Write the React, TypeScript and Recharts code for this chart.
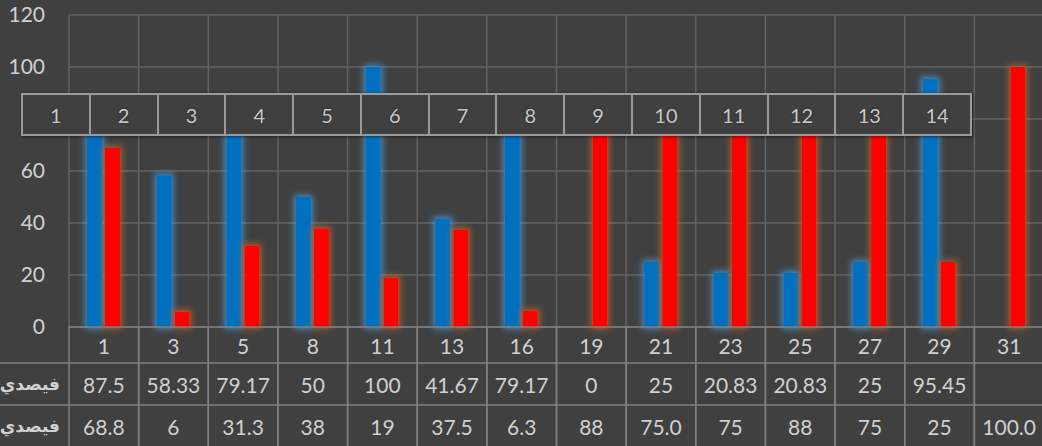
import { BarChart, Bar, XAxis, YAxis, CartesianGrid } from 'recharts';

const categories = ['1', '3', '5', '8', '11', '13', '16', '19', '21', '23', '25', '27', '29', '31'];
const blueValues = [87.5, 58.33, 79.17, 50, 100, 41.67, 79.17, 0, 25, 20.83, 20.83, 25, 95.45, null];
const redValues = [68.8, 6, 31.3, 38, 19, 37.5, 6.3, 88, 75.0, 75, 88, 75, 25, 100.0];
const blueLabels = ['87.5', '58.33', '79.17', '50', '100', '41.67', '79.17', '0', '25', '20.83', '20.83', '25', '95.45', ''];
const redLabels = ['68.8', '6', '31.3', '38', '19', '37.5', '6.3', '88', '75.0', '75', '88', '75', '25', '100.0'];
const yTicks = [0, 20, 40, 60, 80, 100, 120];
const boxLabels = ['1', '2', '3', '4', '5', '6', '7', '8', '9', '10', '11', '12', '13', '14'];
const rowLabel = 'فيصدي';

const data = categories.map((cat, i) => ({ cat, blue: blueValues[i], red: redValues[i] }));

const CHART_W = 1044;
const Y_W = 69;
const colW = (CHART_W - Y_W) / categories.length;
const lineColor = '#7f7f7f';
const textColor = '#d0d0d0';
const font = "Lato, 'DejaVu Sans', sans-serif";

const TableTick = (props: any) => {
    const { x, y, index } = props;
    const half = colW / 2;
    const left = x - half;
    const right = x + half;
    return (
        <g>
            <line x1={left} y1={y} x2={left} y2={y + 125} stroke={lineColor} strokeWidth={1.5} />
            <line x1={right} y1={y} x2={right} y2={y + 125} stroke={lineColor} strokeWidth={1.5} />
            <line x1={left} y1={y + 36} x2={right} y2={y + 36} stroke={lineColor} strokeWidth={1.5} />
            <line x1={left} y1={y + 78} x2={right} y2={y + 78} stroke={lineColor} strokeWidth={1.5} />
            {index === 0 && (
                <g>
                    <line x1={0} y1={y + 36} x2={left} y2={y + 36} stroke={lineColor} strokeWidth={1.5} />
                    <line x1={0} y1={y + 78} x2={left} y2={y + 78} stroke={lineColor} strokeWidth={1.5} />
                    <text x={60} y={y + 57} textAnchor="end" dominantBaseline="central" fill={textColor}
                        fontSize={17} fontWeight="bold" fontFamily="'DejaVu Sans', sans-serif">{rowLabel}</text>
                    <text x={60} y={y + 99} textAnchor="end" dominantBaseline="central" fill={textColor}
                        fontSize={17} fontWeight="bold" fontFamily="'DejaVu Sans', sans-serif">{rowLabel}</text>
                </g>
            )}
            <text x={x} y={y + 18} textAnchor="middle" dominantBaseline="central" fill={textColor} fontSize={21} fontFamily={font}>
                {categories[index]}
            </text>
            <text x={x} y={y + 57} textAnchor="middle" dominantBaseline="central" fill={textColor} fontSize={21} fontFamily={font}>
                {blueLabels[index]}
            </text>
            <text x={x} y={y + 99} textAnchor="middle" dominantBaseline="central" fill={textColor} fontSize={21} fontFamily={font}>
                {redLabels[index]}
            </text>
        </g>
    );
};

export default function App() {
    return (
        <div style={{ position: 'fixed', left: 0, top: 0, width: 1042, height: 446, overflow: 'hidden', background: '#404040' }}>
            <BarChart
                width={CHART_W}
                height={446}
                data={data}
                margin={{ top: 15, right: 0, bottom: 0, left: 0 }}
                barSize={15}
                barGap={3}
            >
                <defs>
                    <filter id="glowBlue" filterUnits="userSpaceOnUse" x={0} y={0} width={1100} height={500}>
                        <feMorphology in="SourceAlpha" operator="dilate" radius={2} result="fat" />
                        <feGaussianBlur in="fat" stdDeviation={3} result="blur" />
                        <feFlood floodColor="#4c9fe0" floodOpacity={0.75} />
                        <feComposite in2="blur" operator="in" result="glow" />
                        <feMerge>
                            <feMergeNode in="glow" />
                            <feMergeNode in="SourceGraphic" />
                        </feMerge>
                    </filter>
                    <filter id="glowRed" filterUnits="userSpaceOnUse" x={0} y={0} width={1100} height={500}>
                        <feMorphology in="SourceAlpha" operator="dilate" radius={2} result="fat" />
                        <feGaussianBlur in="fat" stdDeviation={3} result="blur" />
                        <feFlood floodColor="#b8652e" floodOpacity={0.8} />
                        <feComposite in2="blur" operator="in" result="glow" />
                        <feMerge>
                            <feMergeNode in="glow" />
                            <feMergeNode in="SourceGraphic" />
                        </feMerge>
                    </filter>
                </defs>
                <CartesianGrid
                    stroke="#636363"
                    strokeWidth={1.5}
                    verticalCoordinatesGenerator={({ offset }: any) =>
                        categories.map((_, i) => offset.left + (i * offset.width) / categories.length).concat(offset.left + offset.width)
                    }
                />
                <XAxis
                    dataKey="cat"
                    height={119}
                    interval={0}
                    tickSize={0}
                    tickMargin={0}
                    tickLine={false}
                    axisLine={{ stroke: lineColor, strokeWidth: 1.5 }}
                    tick={<TableTick />}
                />
                <YAxis
                    width={Y_W}
                    domain={[0, 120]}
                    ticks={yTicks}
                    axisLine={false}
                    tickLine={false}
                    tickSize={0}
                    tickMargin={24}
                    tick={{ fill: textColor, fontSize: 21, fontFamily: font }}
                />
                <Bar dataKey="blue" fill="#0070c0" filter="url(#glowBlue)" isAnimationActive={false} />
                <Bar dataKey="red" fill="#ff0000" filter="url(#glowRed)" isAnimationActive={false} />
            </BarChart>
            <div
                style={{
                    position: 'absolute',
                    left: 21,
                    top: 93,
                    width: 951,
                    height: 43,
                    boxSizing: 'border-box',
                    display: 'flex',
                    border: '2px solid #9a9a9a',
                    background: '#404040',
                    boxShadow: '1px 1px 3px rgba(0,0,0,0.5)',
                }}
            >
                {boxLabels.map((label, i) => (
                    <div
                        key={label}
                        style={{
                            flex: 1,
                            display: 'flex',
                            alignItems: 'center',
                            justifyContent: 'center',
                            borderLeft: i > 0 ? '2px solid #9a9a9a' : 'none',
                            color: '#c8c8c8',
                            fontFamily: font,
                            fontSize: 20,
                            textShadow: '0 0 2px #222',
                        }}
                    >
                        {label}
                    </div>
                ))}
            </div>
        </div>
    );
}
